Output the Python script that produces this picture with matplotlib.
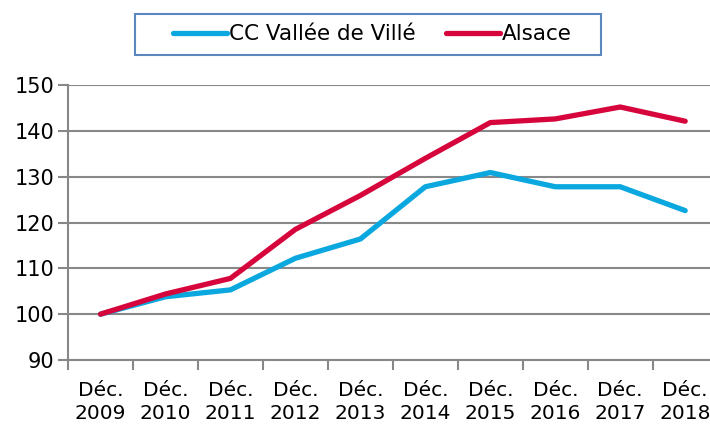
import matplotlib.pyplot as plt
from matplotlib.patches import Rectangle
from matplotlib.ticker import FixedLocator

# données (indice base 100 en déc. 2009)
annees = ['2009', '2010', '2011', '2012', '2013', '2014', '2015', '2016', '2017', '2018']
etiquettes = ['Déc.\n' + a for a in annees]
cc_ville = [100, 103.8, 105.3, 112.2, 116.4, 127.8, 130.9, 127.8, 127.8, 122.6]
alsace = [100, 104.4, 107.8, 118.5, 125.9, 134.0, 141.8, 142.6, 145.2, 142.1]

plt.rcParams['font.family'] = ['DejaVu Sans']

fig = plt.figure(figsize=(7.1, 4.3), dpi=100)
ax = fig.add_axes([0.0958, 0.1628, 0.915, 0.6395])

x = range(len(annees))
l1, = ax.plot(x, cc_ville, color='#0aa8df', lw=3.8, solid_capstyle='round',
              solid_joinstyle='round', label='CC Vallée de Villé', zorder=3)
l2, = ax.plot(x, alsace, color='#d6063d', lw=3.8, solid_capstyle='round',
              solid_joinstyle='round', label='Alsace', zorder=4)

ax.set_ylim(90, 150)
ax.set_xlim(-0.5, len(annees) - 0.5)
ax.set_yticks(range(90, 151, 10))
ax.set_xticks(list(x))
ax.set_xticklabels(etiquettes, fontsize=14.5, linespacing=1.3)
ax.xaxis.set_minor_locator(FixedLocator([i - 0.5 for i in range(len(annees) + 1)]))
ax.tick_params(axis='x', which='major', length=0, pad=15)
ax.tick_params(axis='x', which='minor', length=7, width=1.5, color='#888888')
ax.tick_params(axis='y', length=7, width=1.5, color='#888888', labelsize=15, pad=3)

ax.grid(axis='y', color='#888888', lw=1.5)
ax.set_axisbelow(True)
for s in ['top', 'right']:
    ax.spines[s].set_visible(False)
for s in ['left', 'bottom']:
    ax.spines[s].set_color('#888888')
    ax.spines[s].set_linewidth(1.5)

# cadre de la légende
fig.patches.append(Rectangle((135 / 710, 1 - 55 / 430), 466 / 710, 41 / 430,
                             transform=fig.transFigure, fill=False,
                             edgecolor='#5b86c0', lw=1.5))
fig.legend(handles=[l1, l2], loc='center', bbox_to_anchor=(0.525, 0.92),
           ncol=2, fontsize=15.5, frameon=False,
           handlelength=2.5, handletextpad=0.1, columnspacing=1.4,
           borderpad=0.3, borderaxespad=0)

fig.savefig('out.png', dpi=100)
